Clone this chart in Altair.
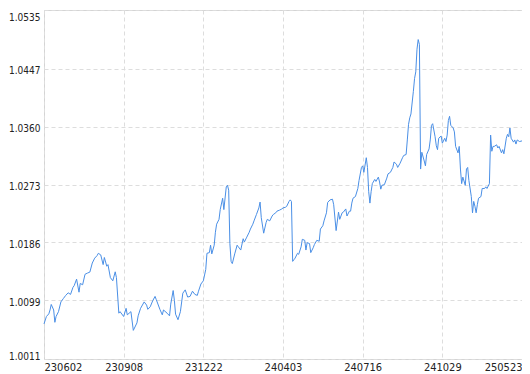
import altair as alt
import pandas as pd

# trading-day index of each sampled point
day = [0, 2, 4, 5, 6, 8, 9, 10, 12, 14, 16, 18, 20, 22, 24, 25, 27, 29, 30, 32,
       34, 36, 38, 40, 42, 44, 45, 47, 49, 50, 52, 53, 55, 57, 59, 60, 62, 63, 66, 68,
       69, 72, 74, 77, 78, 80, 83, 85, 86, 88, 90, 92, 93, 96, 98, 99, 102, 104, 105, 107,
       108, 109, 111, 113, 115, 117, 119, 121, 123, 125, 127, 128, 130, 132, 134, 135, 137, 138, 139, 141,
       142, 143, 145, 146, 148, 149, 151, 152, 153, 154, 155, 156, 158, 160, 161, 163, 165, 166, 168, 170,
       171, 173, 174, 176, 178, 179, 180, 182, 184, 185, 187, 189, 190, 192, 193, 195, 197, 198, 200, 201,
       203, 204, 205, 206, 207, 208, 210, 211, 213, 214, 216, 217, 218, 220, 221, 223, 224, 226, 228, 229,
       231, 232, 234, 235, 237, 239, 240, 242, 244, 245, 247, 248, 250, 251, 253, 254, 255, 256, 258, 260,
       261, 263, 264, 265, 267, 268, 269, 270, 271, 272, 274, 275, 277, 278, 279, 280, 282, 284, 285, 287,
       289, 290, 292, 293, 295, 297, 298, 300, 301, 302, 303, 304, 306, 307, 308, 309, 310, 311, 312, 313,
       315, 316, 317, 319, 320, 321, 322, 324, 325, 326, 327, 329, 330, 332, 333, 334, 335, 336, 337, 339,
       340, 341, 343, 344, 345, 346, 347, 349, 350, 351, 352, 354, 355, 356, 357, 358, 359, 360, 362, 363,
       365, 366, 367, 369, 370, 371, 372, 373, 375, 376, 377, 379, 380, 381, 383, 384, 385, 386, 387, 389,
       390, 391, 392, 394, 396]

# net value of each sampled point
nav = [1.00637, 1.00748, 1.00788, 1.00846, 1.00929, 1.00846, 1.00661, 1.00748, 1.00821, 1.00967,
       1.01017, 1.01065, 1.01104, 1.01080, 1.01186, 1.01211, 1.01309, 1.01113, 1.01244, 1.01225,
       1.01382, 1.01400, 1.01415, 1.01551, 1.01624, 1.01663, 1.01697, 1.01673, 1.01527, 1.01634,
       1.01503, 1.01527, 1.01332, 1.01284, 1.01419, 1.01332, 1.00798, 1.00821, 1.00748, 1.00871,
       1.00773, 1.00821, 1.00540, 1.00652, 1.00758, 1.00871, 1.00967, 1.00919, 1.00856, 1.00894,
       1.00982, 1.01050, 1.01002, 1.00856, 1.00773, 1.00846, 1.00798, 1.00758, 1.00934, 1.01138,
       1.00992, 1.00783, 1.00700, 1.00821, 1.01098, 1.01148, 1.01040, 1.01050, 1.01128, 1.01080,
       1.01065, 1.01128, 1.01236, 1.01284, 1.01454, 1.01697, 1.01707, 1.01819, 1.01688, 1.01819,
       1.02013, 1.02134, 1.02207, 1.02353, 1.02524, 1.02353, 1.02695, 1.02718, 1.02645, 1.01843,
       1.01576, 1.01542, 1.01688, 1.01819, 1.01794, 1.01746, 1.01916, 1.01867, 1.01940, 1.02013,
       1.02061, 1.02134, 1.02184, 1.02280, 1.02378, 1.02466, 1.02232, 1.01999, 1.02159, 1.02207,
       1.02184, 1.02257, 1.02280, 1.02305, 1.02330, 1.02344, 1.02363, 1.02378, 1.02388, 1.02400,
       1.02476, 1.02499, 1.02476, 1.01576, 1.01600, 1.01624, 1.01697, 1.01682, 1.01794, 1.01907,
       1.01892, 1.01746, 1.01857, 1.01843, 1.01707, 1.01780, 1.01828, 1.01892, 1.01878, 1.02061,
       1.02111, 1.02184, 1.02305, 1.02461, 1.02499, 1.02509, 1.02426, 1.02038, 1.02315, 1.02207,
       1.02305, 1.02315, 1.02363, 1.02257, 1.02330, 1.02330, 1.02451, 1.02524, 1.02549, 1.02670,
       1.02791, 1.02986, 1.03010, 1.02913, 1.03132, 1.02986, 1.02622, 1.02451, 1.02622, 1.02743,
       1.02806, 1.02776, 1.02841, 1.02768, 1.02660, 1.02718, 1.02728, 1.02826, 1.02889, 1.02913,
       1.02986, 1.03068, 1.03035, 1.02986, 1.03049, 1.03132, 1.03166, 1.03180, 1.03399, 1.03633,
       1.03731, 1.03789, 1.04129, 1.04323, 1.04421, 1.04761, 1.04906, 1.04834, 1.02962, 1.03214,
       1.03083, 1.03010, 1.03180, 1.03264, 1.03399, 1.03618, 1.03643, 1.03447, 1.03312, 1.03253,
       1.03424, 1.03458, 1.03351, 1.03424, 1.03375, 1.03472, 1.03691, 1.03754, 1.03618, 1.03579,
       1.03520, 1.03302, 1.03205, 1.03302, 1.02962, 1.02743, 1.02841, 1.02718, 1.02962, 1.02986,
       1.02791, 1.02549, 1.02305, 1.02476, 1.02403, 1.02305, 1.02426, 1.02524, 1.02549, 1.02670,
       1.02670, 1.02695, 1.02670, 1.02743, 1.03472, 1.03229, 1.03302, 1.03302, 1.03326, 1.03278,
       1.03302, 1.03205, 1.03253, 1.03191, 1.03424, 1.03483, 1.03447, 1.03579, 1.03424, 1.03366,
       1.03399, 1.03337, 1.03399, 1.03375, 1.03385]

x_tick_days = [0, 66, 132, 198, 264, 330, 396]
x_tick_labels = ["230602", "230908", "231222", "240403", "240716", "241029", "250523"]
y_ticks = [1.0011, 1.0099, 1.0186, 1.0273, 1.0360, 1.0447, 1.0535]

df = pd.DataFrame({"day": day, "nav": nav})

label_expr = "[" + ",".join("'%s'" % s for s in x_tick_labels) + "][indexof([" + \
    ",".join(str(d) for d in x_tick_days) + "], datum.value)]"

FONT = "'DejaVu Sans Condensed', 'Liberation Sans', sans-serif"

chart = alt.Chart(df).mark_line(color="#4a8fe6", strokeWidth=1).encode(
    x=alt.X("day:Q",
            scale=alt.Scale(domain=[0, 396], nice=False, zero=False),
            axis=alt.Axis(values=x_tick_days, labelExpr=label_expr, title=None,
                          grid=True, gridColor="#dddddd", gridDash=[4, 3],
                          ticks=False, tickSize=0, domain=False, labelFlush=True,
                          labelPadding=2, labelFont=FONT, labelFontSize=11,
                          labelColor="#222222")),
    y=alt.Y("nav:Q",
            scale=alt.Scale(domain=[1.0011, 1.0535], nice=False, zero=False),
            axis=alt.Axis(values=y_ticks, format=".4f", title=None,
                          grid=True, gridColor="#dddddd", gridDash=[4, 3],
                          ticks=False, tickSize=0, domain=False, labelFlush=True,
                          labelOffset=2, labelPadding=4, labelFont=FONT,
                          labelFontSize=10, labelColor="#222222")),
).properties(
    width=478, height=349,
    padding={"left": 36, "top": 2, "right": 0, "bottom": 15},
    autosize=alt.AutoSizeParams(type="none"),
).configure_view(stroke="#d4d4d4", strokeWidth=1)

chart.save("out.html", embed_options={"renderer": "svg", "actions": False})
